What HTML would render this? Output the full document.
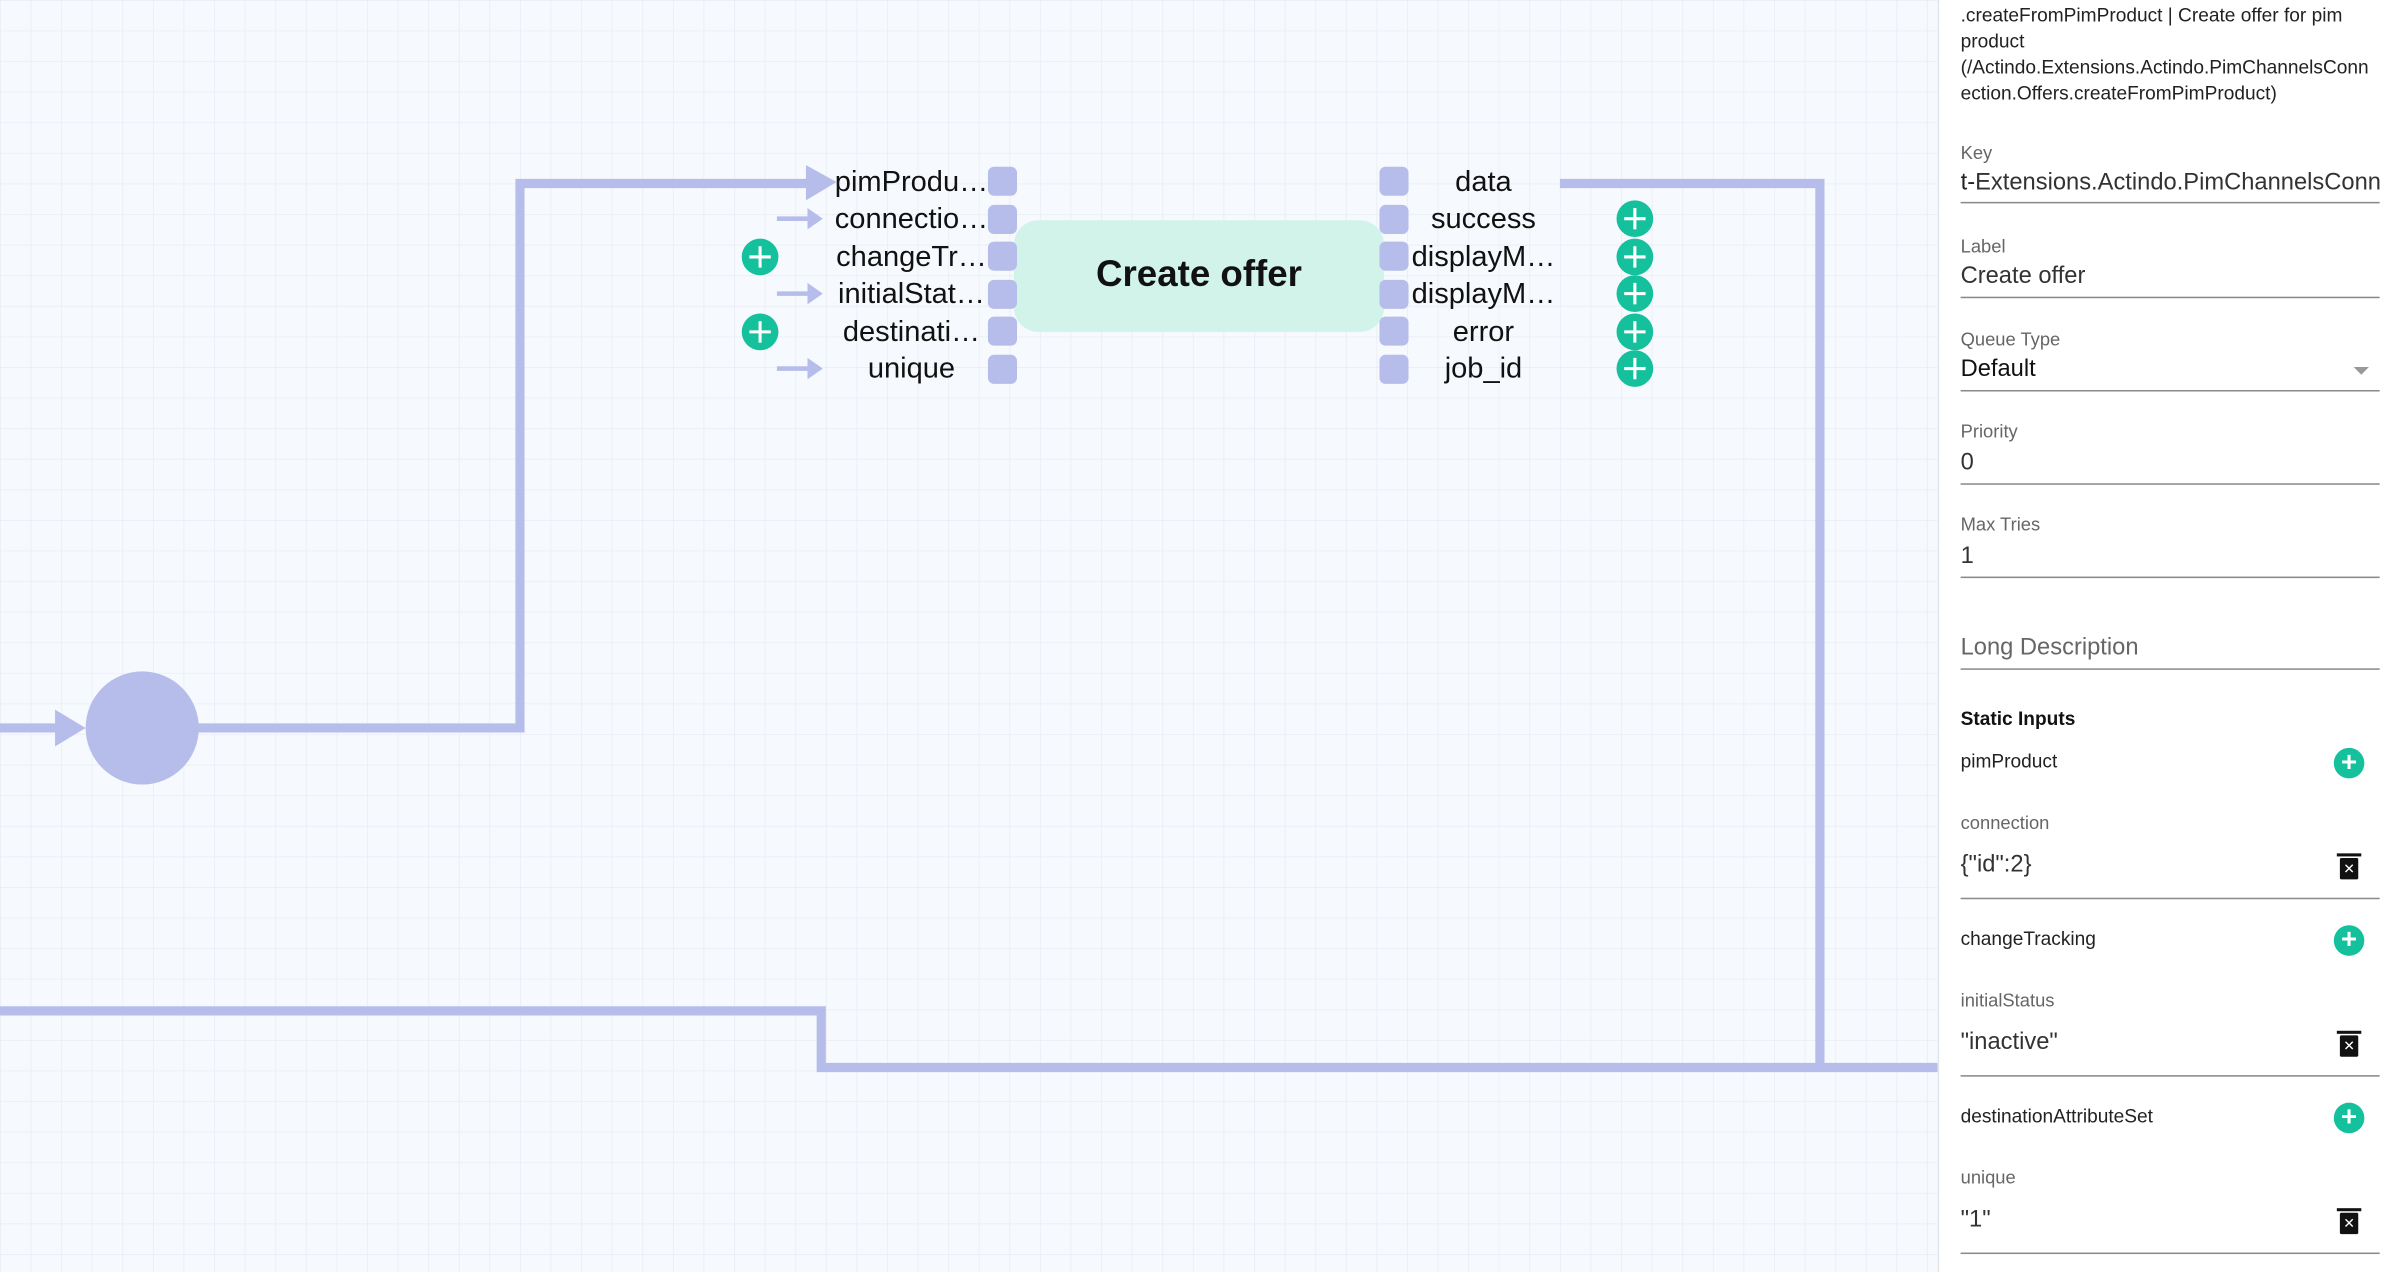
<!DOCTYPE html>
<html><head><meta charset="utf-8"><style>
html,body{margin:0;padding:0;width:2398px;height:1272px;overflow:hidden;background:#f6f9fd}
#w{position:absolute;left:0;top:0;width:1568px;height:832px;transform:scale(1.52934);transform-origin:0 0;font-family:"Liberation Sans",Roboto,sans-serif}
#panel{position:absolute;left:1267px;top:0;width:301px;height:832px;background:#fff;border-left:1px solid #e2e5ea}
.t{position:absolute;left:14px;white-space:nowrap}
.lb{font-size:12px;color:#666}
.v{font-size:15.5px;color:#333}
.ln{position:absolute;left:14px;width:274px;height:1px;background:#8a8a8a}
.pl{position:absolute;left:258px;width:20px;height:20px;border-radius:50%;background:#14c19c;color:#fff;font-size:18px;line-height:19px;text-align:center;font-weight:bold}
.tr{position:absolute;left:262px;width:12px;height:14px;background:#111;border-radius:1px}
.tr:before{content:"";position:absolute;left:-2px;top:-3px;width:16px;height:2px;background:#111}
.tr:after{content:"✕";position:absolute;left:0;top:1px;width:12px;text-align:center;color:#fff;font-size:9px;line-height:12px}
</style></head><body><div id="w">
<svg width="1267" height="832" style="position:absolute;left:0;top:0">
<defs><pattern id="g" width="20" height="20" patternUnits="userSpaceOnUse"><path d="M20 0H0V20" fill="none" stroke="#e9edf3" stroke-width="1"/></pattern></defs>
<rect width="1267" height="832" fill="#f6f9fd"/><rect width="1267" height="832" fill="url(#g)"/>
<g stroke="#b6bdea" stroke-width="6" fill="none">
<path d="M0 476H40"/><path d="M128 476H340V120H530"/>
<path d="M0 661H537V698H1267"/><path d="M1020 120H1190V698"/>
</g>
<g fill="#b6bdea">
<polygon points="36,464 56,476 36,488"/>
<polygon points="527,108 547,119 527,131"/>
<circle cx="93" cy="476" r="37"/>
<g stroke="#b6bdea" stroke-width="3"><path d="M508 143H530M508 192H530M508 241H530"/></g>
<polygon points="528,136 538,143 528,150"/><polygon points="528,185 538,192 528,199"/><polygon points="528,234 538,241 528,248"/>
<rect x="663" y="144" width="242" height="73" rx="16" fill="#d1f3ea"/>
<rect x="646" y="109" width="19" height="19" rx="4"/><rect x="646" y="134" width="19" height="19" rx="4"/><rect x="646" y="158" width="19" height="19" rx="4"/><rect x="646" y="183" width="19" height="19" rx="4"/><rect x="646" y="207" width="19" height="19" rx="4"/><rect x="646" y="232" width="19" height="19" rx="4"/>
<rect x="902" y="109" width="19" height="19" rx="4"/><rect x="902" y="134" width="19" height="19" rx="4"/><rect x="902" y="158" width="19" height="19" rx="4"/><rect x="902" y="183" width="19" height="19" rx="4"/><rect x="902" y="207" width="19" height="19" rx="4"/><rect x="902" y="232" width="19" height="19" rx="4"/>
</g>
<g fill="#14c19c"><circle cx="497" cy="168" r="12"/><circle cx="497" cy="217" r="12"/><circle cx="1069" cy="143" r="12"/><circle cx="1069" cy="168" r="12"/><circle cx="1069" cy="192" r="12"/><circle cx="1069" cy="217" r="12"/><circle cx="1069" cy="241" r="12"/></g>
<g stroke="#fff" stroke-width="2"><path d="M490 168h14M497 161v14M490 217h14M497 210v14M1062 143h14M1069 136v14M1062 168h14M1069 161v14M1062 192h14M1069 185v14M1062 217h14M1069 210v14M1062 241h14M1069 234v14"/></g>
<g font-family="Liberation Sans, sans-serif" font-size="19" fill="#111" text-anchor="middle">
<text x="596" y="125">pimProdu…</text><text x="596" y="149">connectio…</text><text x="596" y="174">changeTr…</text><text x="596" y="198">initialStat…</text><text x="596" y="223">destinati…</text><text x="596" y="247">unique</text>
<text x="970" y="125">data</text><text x="970" y="149">success</text><text x="970" y="174">displayM…</text><text x="970" y="198">displayM…</text><text x="970" y="223">error</text><text x="970" y="247">job_id</text>
<text x="784" y="187" font-size="24" font-weight="bold">Create offer</text>
</g>
</svg>
<div id="panel">
<div class="t" style="top:2px;font-size:12.5px;line-height:17px;color:#222">.createFromPimProduct | Create offer for pim<br>product<br>(/Actindo.Extensions.Actindo.PimChannelsConn<br>ection.Offers.createFromPimProduct)</div>
<div class="t lb" style="top:93px">Key</div><div class="t v" style="top:111px;width:274px;overflow:hidden"><span style="color:#222">t-</span>Extensions.Actindo.PimChannelsConn</div><div class="ln" style="top:132px"></div>
<div class="t lb" style="top:154px">Label</div><div class="t v" style="top:172px">Create offer</div><div class="ln" style="top:194px"></div>
<div class="t lb" style="top:215px">Queue Type</div><div class="t v" style="top:233px;color:#111">Default</div><div style="position:absolute;left:271px;top:240px;border:5px solid transparent;border-top:5px solid #999"></div><div class="ln" style="top:255px"></div>
<div class="t lb" style="top:275px">Priority</div><div class="t v" style="top:294px">0</div><div class="ln" style="top:316px"></div>
<div class="t lb" style="top:336px">Max Tries</div><div class="t v" style="top:355px">1</div><div class="ln" style="top:377px"></div>
<div class="t v" style="top:415px;color:#666">Long Description</div><div class="ln" style="top:437px"></div>
<div class="t" style="top:463px;font-size:12.5px;font-weight:bold;color:#111">Static Inputs</div>
<div class="t" style="top:491px;font-size:12.5px;color:#222">pimProduct</div><div class="pl" style="top:489px">+</div>
<div class="t lb" style="top:531px">connection</div><div class="t v" style="top:557px">{"id":2}</div><div class="tr" style="top:561px"></div><div class="ln" style="top:587px"></div>
<div class="t" style="top:607px;font-size:12.5px;color:#222">changeTracking</div><div class="pl" style="top:605px">+</div>
<div class="t lb" style="top:647px">initialStatus</div><div class="t v" style="top:673px">"inactive"</div><div class="tr" style="top:677px"></div><div class="ln" style="top:703px"></div>
<div class="t" style="top:723px;font-size:12.5px;color:#222">destinationAttributeSet</div><div class="pl" style="top:721px">+</div>
<div class="t lb" style="top:763px">unique</div><div class="t v" style="top:789px">"1"</div><div class="tr" style="top:793px"></div><div class="ln" style="top:819px"></div>
</div>
</div></body></html>
